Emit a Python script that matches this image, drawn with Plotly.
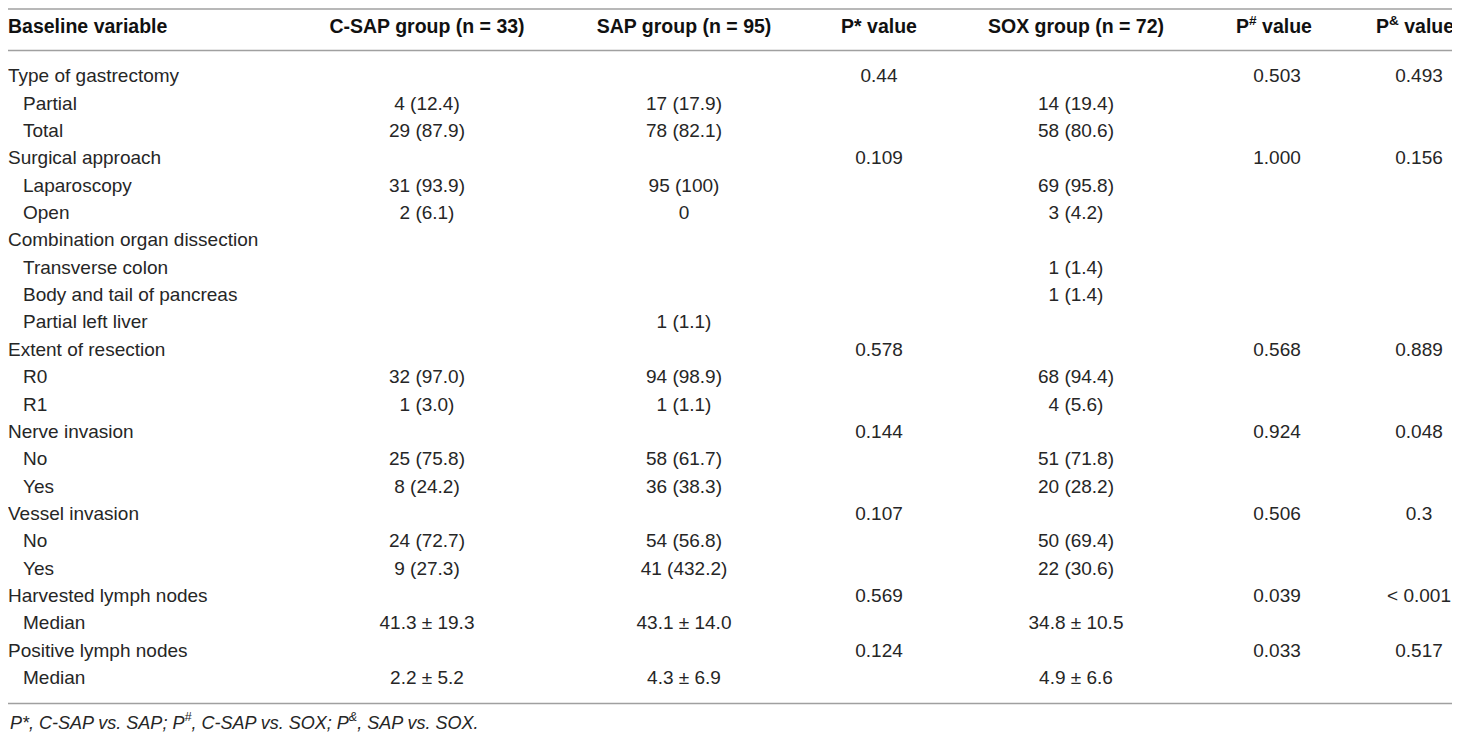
import plotly.graph_objects as go

# table data
variables = [
    "Type of gastrectomy", "Partial", "Total",
    "Surgical approach", "Laparoscopy", "Open",
    "Combination organ dissection", "Transverse colon", "Body and tail of pancreas", "Partial left liver",
    "Extent of resection", "R0", "R1",
    "Nerve invasion", "No", "Yes",
    "Vessel invasion", "No", "Yes",
    "Harvested lymph nodes", "Median",
    "Positive lymph nodes", "Median",
]
is_sub = [0, 1, 1, 0, 1, 1, 0, 1, 1, 1, 0, 1, 1, 0, 1, 1, 0, 1, 1, 0, 1, 0, 1]

csap = ["", "4 (12.4)", "29 (87.9)", "", "31 (93.9)", "2 (6.1)", "", "", "", "",
        "", "32 (97.0)", "1 (3.0)", "", "25 (75.8)", "8 (24.2)", "", "24 (72.7)", "9 (27.3)",
        "", "41.3 ± 19.3", "", "2.2 ± 5.2"]
sap = ["", "17 (17.9)", "78 (82.1)", "", "95 (100)", "0", "", "", "", "1 (1.1)",
       "", "94 (98.9)", "1 (1.1)", "", "58 (61.7)", "36 (38.3)", "", "54 (56.8)", "41 (432.2)",
       "", "43.1 ± 14.0", "", "4.3 ± 6.9"]
p_star = ["0.44", "", "", "0.109", "", "", "", "", "", "",
          "0.578", "", "", "0.144", "", "", "0.107", "", "",
          "0.569", "", "0.124", ""]
sox = ["", "14 (19.4)", "58 (80.6)", "", "69 (95.8)", "3 (4.2)", "", "1 (1.4)", "1 (1.4)", "",
       "", "68 (94.4)", "4 (5.6)", "", "51 (71.8)", "20 (28.2)", "", "50 (69.4)", "22 (30.6)",
       "", "34.8 ± 10.5", "", "4.9 ± 6.6"]
p_hash = ["0.503", "", "", "1.000", "", "", "", "", "", "",
          "0.568", "", "", "0.924", "", "", "0.506", "", "",
          "0.039", "", "0.033", ""]
p_amp = ["0.493", "", "", "0.156", "", "", "", "", "", "",
         "0.889", "", "", "0.048", "", "", "0.3", "", "",
         "< 0.001", "", "0.517", ""]

headers = ["Baseline variable", "C-SAP group (n = 33)", "SAP group (n = 95)", "P* value",
           "SOX group (n = 72)", "P<sup>#</sup> value", "P<sup>&</sup> value"]
footnote = "P*, C-SAP vs. SAP; P<sup>#</sup>, C-SAP vs. SOX; P<sup>&</sup>, SAP vs. SOX."

# layout: x in page pixels, y in row units.
# the html page has an 8px body margin, so the axes are shifted by OFF
W, H = 1460, 733
OFF = 8
FONT = "Liberation Sans, Arial, sans-serif"
RULE = "#a0a0a0"
col_x = [OFF, 427, 684, 879, 1076, 1277, 1419]
head_x = [OFF, 427, 684, 879, 1076, 1274, 1415]
sub_x = 23
pitch = 27.36          # px per row
row0 = 77.5            # px of first body row


def to_row(px):
    return (px - row0) / pitch


rows = list(range(len(variables)))
y_header = to_row(28.5)

fig = go.Figure()

# first column, left aligned
fig.add_trace(go.Scatter(
    x=[sub_x if s else col_x[0] for s in is_sub], y=rows, text=variables,
    mode="text", textposition="middle right", cliponaxis=False,
    textfont=dict(family=FONT, size=19, color="#262626"),
    hoverinfo="skip", showlegend=False))

# value columns, centred
for cx, vals in zip(col_x[1:], [csap, sap, p_star, sox, p_hash, p_amp]):
    fig.add_trace(go.Scatter(
        x=[cx] * len(vals), y=rows, text=vals,
        mode="text", textposition="middle center", cliponaxis=False,
        textfont=dict(family=FONT, size=19, color="#262626"),
        hoverinfo="skip", showlegend=False))

# header row
fig.add_trace(go.Scatter(
    x=head_x, y=[y_header] * len(headers), text=["<b>%s</b>" % h for h in headers],
    mode="text", textposition=["middle right"] + ["middle center"] * 6, cliponaxis=False,
    textfont=dict(family=FONT, size=19.5, color="#111"),
    hoverinfo="skip", showlegend=False))

# the three horizontal rules of the table (top one kept inside the figure)
for ypx in (OFF + 1, 50.5, 703.5):
    fig.add_shape(type="line", xref="paper", yref="y",
                  x0=0, x1=1, y0=to_row(ypx), y1=to_row(ypx),
                  line=dict(color=RULE, width=1.5))

fig.add_annotation(text="<i>%s</i>" % footnote, xref="paper", yref="y",
                   x=0, y=to_row(721), xanchor="left", yanchor="middle",
                   showarrow=False, font=dict(family=FONT, size=18, color="#262626"))

fig.update_xaxes(range=[OFF, W + OFF], visible=False, fixedrange=True)
fig.update_yaxes(range=[to_row(H + OFF), to_row(OFF)], visible=False, fixedrange=True)
fig.update_layout(width=W, height=H, margin=dict(l=0, r=0, t=0, b=0),
                  paper_bgcolor="white", plot_bgcolor="white")

fig.write_html("out.html")
